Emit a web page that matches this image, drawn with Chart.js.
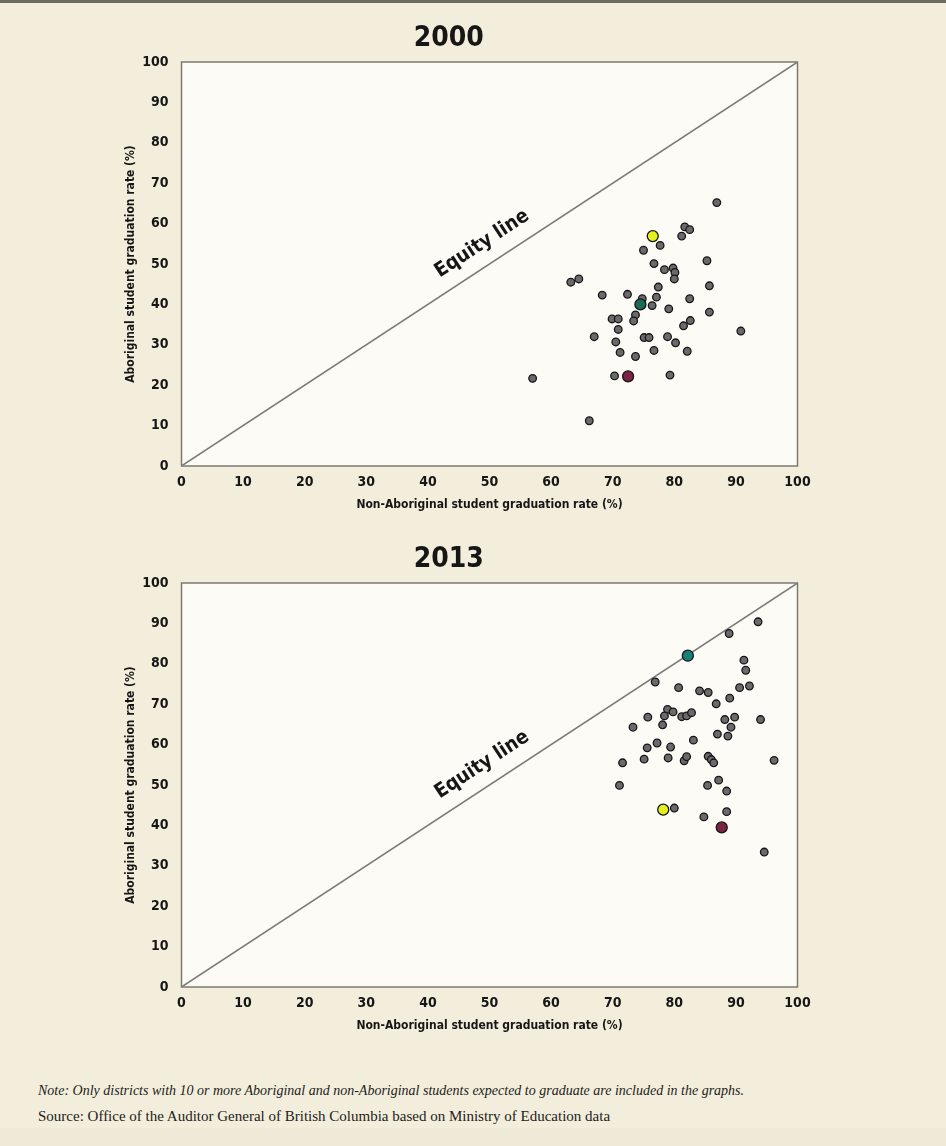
<!DOCTYPE html>
<html>
<head>
<meta charset="utf-8">
<script src="https://cdn.jsdelivr.net/npm/chart.js@4.4.1/dist/chart.umd.min.js"></script>
<style>
  html, body { margin: 0; padding: 0; }
  body { width: 946px; height: 1146px; background: #efead7; position: relative; overflow: hidden; }
  #panel { position: absolute; left: 0; top: 0; width: 946px; height: 1128px; background: #f3eedb; border-top: 3px solid #6b6a63; box-sizing: border-box; }
  .box { position: absolute; left: 100px; width: 720px; height: 520px; }
  #note, #source { position: absolute; left: 38px; font-family: "Liberation Serif", "DejaVu Serif", serif; color: #222; white-space: nowrap; }
  #note { top: 1083px; font-size: 14px; font-style: italic; }
  #source { top: 1108px; font-size: 15px; }
</style>
</head>
<body>
<div id="panel"></div>
<div class="box" style="top:0px"><canvas id="c2000"></canvas></div>
<div class="box" style="top:521px"><canvas id="c2013"></canvas></div>
<div id="note">Note: Only districts with 10 or more Aboriginal and non-Aboriginal students expected to graduate are included in the graphs.</div>
<div id="source">Source: Office of the Auditor General of British Columbia based on Ministry of Education data</div>
<script>
// [non-Aboriginal rate, Aboriginal rate] per district
const others2000 = [
  [86.9, 65.2], [81.7, 59.2], [82.5, 58.5], [81.2, 56.9], [77.7, 54.6], [75.0, 53.4],
  [85.3, 50.8], [76.7, 50.1], [78.4, 48.6], [79.8, 49.0], [80.1, 47.9], [80.0, 46.3],
  [63.2, 45.5], [64.5, 46.3], [85.7, 44.6], [77.4, 44.3], [68.3, 42.3], [72.4, 42.5],
  [77.1, 41.8], [82.5, 41.4], [74.8, 41.4], [76.4, 39.7], [79.1, 38.9], [85.7, 38.1],
  [73.7, 37.4], [73.4, 35.9], [69.9, 36.4], [70.9, 36.4], [82.6, 36.0], [81.5, 34.7],
  [90.8, 33.4], [70.9, 33.8], [67.0, 32.0], [75.1, 31.8], [75.9, 31.8], [78.9, 32.0],
  [80.2, 30.5], [70.5, 30.7], [76.7, 28.6], [82.1, 28.4], [71.2, 28.1], [73.7, 27.1],
  [70.3, 22.3], [79.3, 22.5], [66.2, 11.2], [57.0, 21.7]
];
const yellow2000 = [[76.5, 56.9]];
const teal2000 = [[74.5, 40.0]];
const maroon2000 = [[72.5, 22.2]];

const others2013 = [
  [93.6, 90.4], [88.9, 87.5], [91.3, 80.9], [91.6, 78.4], [76.9, 75.5], [80.7, 74.1],
  [84.1, 73.3], [85.5, 72.9], [90.6, 74.1], [92.2, 74.5], [89.0, 71.5], [86.8, 70.1],
  [78.9, 68.7], [79.8, 68.1], [78.4, 67.1], [81.2, 66.9], [82.0, 67.1], [82.8, 67.9],
  [75.7, 66.8], [88.2, 66.2], [89.8, 66.8], [94.0, 66.2], [73.3, 64.3], [78.1, 64.9],
  [89.2, 64.3], [87.0, 62.6], [88.7, 62.1], [83.1, 61.1], [77.2, 60.4], [75.6, 59.2],
  [79.4, 59.4], [71.6, 55.5], [75.1, 56.4], [79.0, 56.7], [81.6, 56.0], [82.0, 57.0],
  [85.5, 57.1], [86.0, 56.3], [86.4, 55.5], [96.2, 56.1], [71.1, 49.9], [85.4, 49.9],
  [87.2, 51.2], [88.5, 48.5], [80.0, 44.3], [88.5, 43.4], [84.8, 42.1], [94.6, 33.4]
];
const yellow2013 = [[78.2, 43.9]];
const teal2013 = [[82.2, 82.0]];
const maroon2013 = [[87.7, 39.5]];

const equityLine = [[0, 0], [100, 100]];
const equityLabelAt = [48.8, 55];

const COND = "'DejaVu Sans Condensed', 'Liberation Sans Narrow', sans-serif";
const INK = '#161616';

const toPts = arr => arr.map(([x, y]) => ({ x, y }));

// plot area fill + frame
const plotFrame = {
  id: 'plotFrame',
  beforeDraw(chart) {
    const { ctx, chartArea: a } = chart;
    ctx.save();
    ctx.fillStyle = '#fcfbf6';
    ctx.fillRect(a.left, a.top, a.right - a.left, a.bottom - a.top);
    ctx.restore();
  },
  beforeDatasetsDraw(chart) {
    const { ctx, chartArea: a } = chart;
    ctx.save();
    ctx.strokeStyle = '#7c7a70';
    ctx.lineWidth = 1.5;
    ctx.strokeRect(a.left, a.top, a.right - a.left, a.bottom - a.top);
    ctx.restore();
  }
};

// "Equity line" text along the diagonal
const equityLabel = {
  id: 'equityLabel',
  afterDatasetsDraw(chart) {
    const { ctx, scales: { x, y } } = chart;
    const px = x.getPixelForValue(equityLabelAt[0]);
    const py = y.getPixelForValue(equityLabelAt[1]);
    const ang = Math.atan2(y.getPixelForValue(100) - y.getPixelForValue(0),
                           x.getPixelForValue(100) - x.getPixelForValue(0));
    ctx.save();
    ctx.translate(px, py);
    ctx.rotate(ang);
    ctx.font = 'bold 20px ' + COND;
    ctx.fillStyle = INK;
    ctx.textAlign = 'center';
    ctx.textBaseline = 'middle';
    ctx.fillText('Equity line', 0, 0);
    ctx.restore();
  }
};

function makeChart(id, year, others, yellow, teal, maroon, tealColor) {
  const dot = (data, color, r) => ({
    type: 'scatter',
    data: toPts(data),
    backgroundColor: color,
    borderColor: '#151515',
    borderWidth: 1.3,
    pointRadius: r,
    order: 1
  });
  new Chart(document.getElementById(id), {
    type: 'scatter',
    data: {
      datasets: [
        dot(yellow, '#e6ef1e', 5.5),
        dot(teal, tealColor, 5.5),
        dot(maroon, '#7b2343', 5.5),
        Object.assign(dot(others, '#6a6a6a', 3.8), { order: 2 }),
        {
          type: 'line',
          data: toPts(equityLine),
          borderColor: '#7a7a7a',
          borderWidth: 1.5,
          pointRadius: 0,
          fill: false,
          order: 3
        }
      ]
    },
    options: {
      responsive: true,
      maintainAspectRatio: false,
      animation: false,
      layout: { padding: { left: 0, right: 22.5, top: 0, bottom: 4 } },
      plugins: {
        legend: { display: false },
        tooltip: { enabled: false },
        title: {
          display: true,
          text: year,
          color: INK,
          font: { family: COND, size: 28, weight: 'bold' },
          padding: { top: 22.4, bottom: 6 }
        }
      },
      scales: {
        x: {
          type: 'linear',
          min: 0,
          max: 100,
          grid: { display: false, drawTicks: false },
          border: { display: false },
          ticks: { stepSize: 10, color: INK, padding: 7.6, font: { family: COND, size: 14, weight: 'bold' } },
          title: {
            display: true,
            text: 'Non-Aboriginal student graduation rate (%)',
            color: INK,
            font: { family: COND, size: 12, weight: 'bold' },
            padding: { top: 0, bottom: 3.8 }
          },
          afterFit(s) { s.height = 50; }
        },
        y: {
          type: 'linear',
          min: 0,
          max: 100,
          grid: { display: false, drawTicks: false },
          border: { display: false },
          ticks: { stepSize: 10, color: INK, padding: 13, font: { family: COND, size: 14, weight: 'bold' } },
          title: {
            display: true,
            text: 'Aboriginal student graduation rate (%)',
            color: INK,
            font: { family: COND, size: 12, weight: 'bold' },
            padding: { top: 23.8, bottom: 0 }
          },
          afterFit(s) { s.width = 81.5; }
        }
      }
    },
    plugins: [plotFrame, equityLabel]
  });
}

makeChart('c2000', '2000', others2000, yellow2000, teal2000, maroon2000, '#1c6b57');
makeChart('c2013', '2013', others2013, yellow2013, teal2013, maroon2013, '#17807b');
</script>
</body>
</html>
